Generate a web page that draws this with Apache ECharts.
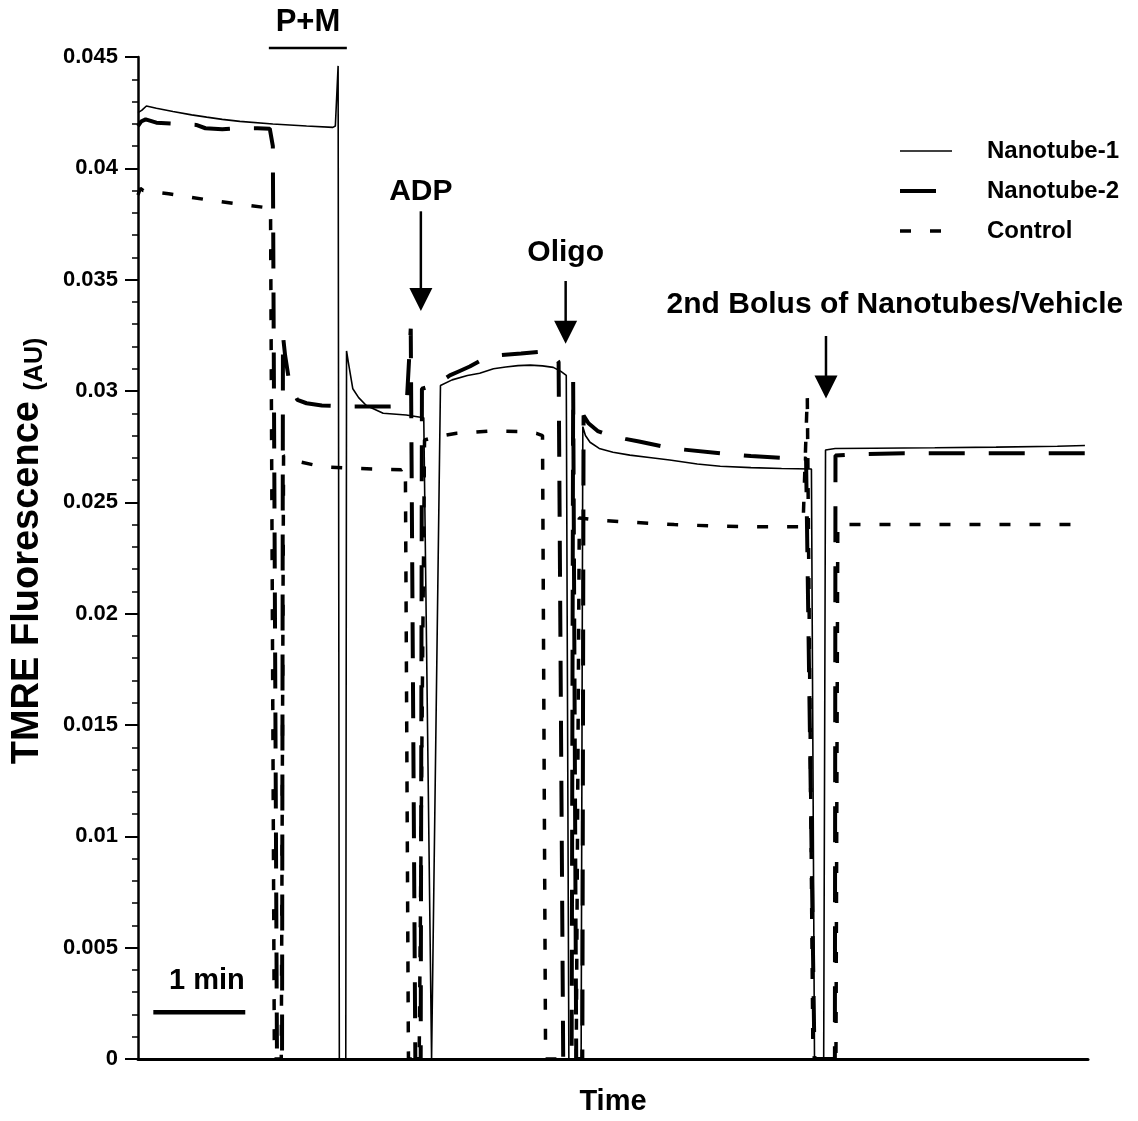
<!DOCTYPE html>
<html>
<head>
<meta charset="utf-8">
<script src="https://cdn.jsdelivr.net/npm/echarts@6/dist/echarts.min.js"></script>
<style>
html,body{margin:0;padding:0;background:#fff;}
#c{width:1138px;height:1121px;}
</style>
</head>
<body>
<div id="c"></div>
<script>
// time in seconds, value = TMRE fluorescence (AU)
var nanotube1 = [
[0,0.0425],[2.4,0.0426],[5.5,0.0428],[12,0.0427],[22.8,0.04255],[35,0.0424],[44.8,0.0423],[55,0.0422],[66.5,0.04211],[88,0.04199],[110,0.0419],[127.2,0.04184],[128.8,0.0419],[130.6,0.0446],[131.4,0],[135.6,0],[136.1,0.0318],[137.5,0.0312],[140.2,0.0301],[144,0.0297],[149,0.02935],[160,0.0290],[175,0.02892],[186.5,0.0288],[191.6,0],[197.4,0.03025],[205,0.0305],[215,0.0307],[223,0.0308],[232,0.0310],[240,0.03108],[248,0.03114],[256,0.03116],[264,0.03113],[271,0.03106],[276,0.03088],[279.5,0.0307],[281.2,0],[289.2,0],[290.3,0.0284],[292,0.0280],[295,0.0277],[301,0.02742],[310,0.02725],[321,0.02712],[335,0.0270],[347,0.0269],[365,0.02672],[380,0.02662],[400,0.02656],[420,0.02652],[439.5,0.0265],[441.5,0],[447.5,0],[448.7,0.02735],[455,0.02742],[480,0.02743],[520,0.02745],[560,0.02748],[600,0.02752],[618,0.02755]
];
var nanotube2 = [
[0,0.0419],[2,0.0421],[5,0.0422],[12,0.04205],[25,0.0420],[38,0.04195],[44,0.0418],[55,0.04175],[65,0.0418],[78,0.0418],[86,0.04178],[88,0.0410],[90.7,0],[94.0,0],[94.6,0.0325],[96,0.0316],[98.5,0.0305],[101,0.0300],[104,0.0296],[110,0.02945],[120,0.02935],[140,0.0293],[160,0.0293],[172,0.02932],[175.5,0.0296],[178,0.0328],[181,0],[184.5,0],[185.3,0.0301],[195,0.0303],[203.5,0.0307],[210,0.0309],[216.5,0.0311],[223,0.03135],[235,0.0316],[250,0.03168],[262,0.03176],[270,0.0317],[274.5,0.0313],[277.5,0],[283,0],[284,0.0304],[286,0],[290,0],[290.8,0.0289],[294,0.02855],[300,0.0282],[308,0.0280],[318,0.02785],[327,0.02773],[349,0.02742],[380,0.0272],[400,0.02708],[420,0.0270],[436,0.02697],[441.5,0],[454.8,0],[455.2,0.0271],[465,0.02715],[500,0.0272],[560,0.0272],[618,0.0272]
];
var control = [
[0,0.0388],[1.5,0.0391],[3.5,0.0390],[20,0.03886],[44,0.0386],[62,0.03843],[82,0.03825],[86.5,0.0382],[89,0],[93.5,0],[95,0.0271],[99,0.0269],[104,0.02684],[120,0.0266],[140,0.02653],[160,0.02648],[172,0.02646],[174.5,0.0266],[176.5,0],[183.5,0],[187,0.0278],[195,0.02795],[208,0.0281],[229.6,0.0282],[251,0.02818],[260,0.0281],[264,0.0280],[266,0],[286,0],[288,0.0243],[299,0.02421],[321,0.02411],[350,0.0240],[380,0.02393],[410,0.0239],[434,0.0239],[436.8,0.0298],[440.5,0],[455.5,0],[456.7,0.0240],[480,0.0240],[540,0.0240],[618,0.0240]
];
var seriesNames = ['Nanotube-1','Nanotube-2','Control'];
var yTickLabels = ['0','0.005','0.01','0.015','0.02','0.025','0.03','0.035','0.04','0.045'];
// event annotations: [label, time, arrow top value, arrow tip value, label value, label time]
var events = [
  ['ADP', 184.6, 0.03807, 0.03359, 0.03896, 184.6],
  ['Oligo', 279.1, 0.03494, 0.03212, 0.03619, 279.1],
  ['2nd Bolus of Nanotubes/Vehicle', 449, 0.03247, 0.02966, 0.03386, 494]
];
var FONT = '"Liberation Sans", Arial, sans-serif';
var lineStyles = [
  {color:'#000', width:1.6, type:'solid'},
  {color:'#000', width:4, type:[36,24]},
  {color:'#000', width:3.5, type:[11,19]}
];

var chart = echarts.init(document.getElementById('c'), null, {renderer:'canvas'});
var option = {
  animation:false,
  backgroundColor:'#fff',
  grid:{left:138, right:50, top:57, bottom:58, containLabel:false},
  legend:{
    orient:'vertical', left:893, top:134, itemWidth:52, itemHeight:16, itemGap:16,
    itemStyle:{opacity:0, borderWidth:0},
    data:seriesNames.map(function(n, i){
      return {name:n, lineStyle:{color:'#000', width:lineStyles[i].width, type:lineStyles[i].type}, itemStyle:{opacity:0}};
    }),
    textStyle:{fontFamily:FONT, fontWeight:'bold', fontSize:24, color:'#000', padding:[0,0,0,30], lineHeight:24}
  },
  xAxis:{
    type:'value', min:0, max:620,
    name:'Time', nameLocation:'middle', nameGap:28,
    nameTextStyle:{fontFamily:FONT, fontWeight:'bold', fontSize:29, color:'#000'},
    axisLine:{lineStyle:{color:'#000', width:3}},
    axisTick:{show:false}, axisLabel:{show:false}, splitLine:{show:false}
  },
  yAxis:{
    type:'value', min:0, max:0.045, interval:0.005,
    name:'{m|TMRE Fluorescence }{s|(AU)}', nameLocation:'middle', nameGap:90, nameRotate:90,
    nameTextStyle:{fontFamily:FONT, fontWeight:'bold', color:'#000', padding:[0,0,0,14],
      rich:{m:{fontFamily:FONT, fontWeight:'bold', fontSize:38, lineHeight:40, color:'#000', verticalAlign:'middle'},
            s:{fontFamily:FONT, fontWeight:'bold', fontSize:25, lineHeight:40, color:'#000', verticalAlign:'bottom', padding:[14,0,0,0]}}},
    axisLine:{show:true, lineStyle:{color:'#000', width:2.5}},
    axisTick:{show:true, inside:false, length:13, lineStyle:{color:'#000', width:2}},
    minorTick:{show:true, splitNumber:5, length:6, lineStyle:{color:'#000', width:1.5}},
    axisLabel:{fontFamily:FONT, fontWeight:'bold', fontSize:22, color:'#000', margin:20,
      formatter:function(v){ return yTickLabels[Math.round(v/0.005)]; }},
    splitLine:{show:false}
  },
  series:[
    {name:seriesNames[0], type:'line', data:nanotube1, symbol:'none', showSymbol:false,
     lineStyle:lineStyles[0], itemStyle:{color:'#000'}, z:4},
    {name:seriesNames[1], type:'line', data:nanotube2, symbol:'none', showSymbol:false,
     lineStyle:lineStyles[1], itemStyle:{color:'#000'}, z:3},
    {name:seriesNames[2], type:'line', data:control, symbol:'none', showSymbol:false,
     lineStyle:lineStyles[2], itemStyle:{color:'#000'}, z:2}
  ]
};
chart.setOption(option);

function px(t, v){ return chart.convertToPixel({xAxisIndex:0, yAxisIndex:0}, [t, v]); }
var g = [];
function txt(s, size){ return {text:s, fill:'#000', font:'bold ' + size + 'px ' + FONT, textAlign:'center', textVerticalAlign:'middle'}; }
events.forEach(function(e){
  var top = px(e[1], e[2]), tip = px(e[1], e[3]), lab = px(e[5], e[4]);
  var headH = 23, headW = 23;
  g.push({type:'line', shape:{x1:top[0], y1:top[1], x2:tip[0], y2:tip[1]-headH+2}, style:{stroke:'#000', lineWidth:2.5}, silent:true});
  g.push({type:'polygon', shape:{points:[[tip[0]-headW/2, tip[1]-headH],[tip[0]+headW/2, tip[1]-headH],[tip[0], tip[1]]]}, style:{fill:'#000'}, silent:true});
  g.push({type:'text', x:lab[0], y:lab[1], style:txt(e[0], 30), silent:true});
});
// P+M bracket (above the plot)
var pm1 = px(85.4, 0.0454), pm2 = px(136.3, 0.0454), pmT = px(110.9, 0.04657);
g.push({type:'line', shape:{x1:pm1[0], y1:pm1[1], x2:pm2[0], y2:pm2[1]}, style:{stroke:'#000', lineWidth:2.5}, silent:true});
g.push({type:'text', x:pmT[0], y:pmT[1], style:txt('P+M', 31), silent:true});
// 1 min scale bar (60 s)
var sb1 = px(10, 0.0021), sb2 = px(70, 0.0021), sbT = px(45, 0.00349);
g.push({type:'line', shape:{x1:sb1[0], y1:sb1[1], x2:sb2[0], y2:sb2[1]}, style:{stroke:'#000', lineWidth:4.5}, silent:true});
g.push({type:'text', x:sbT[0], y:sbT[1], style:txt('1 min', 29), silent:true});
chart.setOption({graphic:g});
</script>
</body>
</html>
